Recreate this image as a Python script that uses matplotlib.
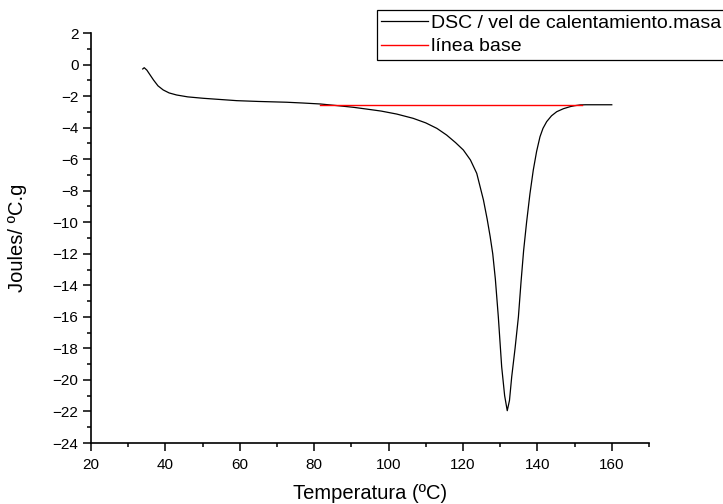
import matplotlib.pyplot as plt
from matplotlib.ticker import MultipleLocator

plt.rcParams['font.family'] = ['Liberation Sans', 'DejaVu Sans']

# DSC curve
temp = [33.9, 34.3, 35.0, 36.0, 36.8, 38.0, 39.4, 41.0, 43.0, 46.0,
        50.2, 55.0, 59.2, 65.0, 72.6, 77.0, 81.6, 86.0, 90.5, 94.0,
        98.0, 102.2, 106.6, 110.0, 113.0, 115.6, 118.0, 120.1, 122.0, 123.7,
        125.5, 126.5, 127.3, 128.0, 128.7, 129.5, 130.4, 131.2, 131.9, 132.5,
        133.1, 134.0, 134.9, 135.6, 136.3, 137.1, 138.0, 138.9, 139.8, 140.7,
        141.5, 142.5, 143.8, 145.2, 147.0, 148.8, 150.0, 151.5, 153.0, 156.0,
        160.0]
dsc = [-0.28, -0.20, -0.35, -0.70, -0.98, -1.35, -1.61, -1.80, -1.93, -2.05,
       -2.14, -2.22, -2.29, -2.34, -2.39, -2.44, -2.50, -2.60, -2.71, -2.82,
       -2.95, -3.14, -3.41, -3.70, -4.05, -4.47, -4.95, -5.42, -6.05, -6.90,
       -8.59, -9.80, -10.9, -12.0, -13.6, -16.0, -19.16, -21.0, -21.95, -21.3,
       -19.8, -18.0, -16.0, -13.8, -11.8, -10.0, -8.2, -6.69, -5.5, -4.58,
       -4.05, -3.62, -3.25, -2.99, -2.80, -2.67, -2.61, -2.56, -2.55, -2.55,
       -2.55]

# baseline
base_x = [81.6, 151.9]
base_y = [-2.55, -2.55]

fig = plt.figure(figsize=(7.23, 5.04), dpi=100)
ax = fig.add_axes([0.1259, 0.121, 0.7717, 0.8135])

ax.plot(temp, dsc, color='black', lw=0.9, label='DSC / vel de calentamiento.masa')
ax.plot(base_x, base_y, color='#ff0000', lw=1.0, label='línea base')

ax.set_xlim(20, 170)
ax.set_ylim(-24, 2)
ax.set_xticks([20, 40, 60, 80, 100, 120, 140, 160])
ax.set_xticks([30, 50, 70, 90, 110, 130, 150, 170], minor=True)
ax.yaxis.set_major_locator(MultipleLocator(2))
ax.yaxis.set_minor_locator(MultipleLocator(1))

for s in ['top', 'right']:
    ax.spines[s].set_visible(False)
for s in ['left', 'bottom']:
    ax.spines[s].set_linewidth(1.2)

ax.tick_params(which='major', direction='out', length=5.5, width=1.1, labelsize=11)
ax.tick_params(axis='x', which='major', pad=5)
ax.tick_params(which='minor', direction='out', length=3.2, width=1.1)

ax.set_xlabel('Temperatura (ºC)', fontsize=14.5, va='center')
ax.set_ylabel('Joules/ ºC.g', fontsize=14.5, va='center')
ax.xaxis.set_label_coords(0.5, -0.124)
ax.yaxis.set_label_coords(-0.131, 0.5)

leg = fig.legend(loc='upper left', bbox_to_anchor=(377 / 723, 1 - 10 / 504),
                 borderaxespad=0, fancybox=False, fontsize=14,
                 handlelength=2.4, handletextpad=0.15, labelspacing=0.3,
                 borderpad=0.22, framealpha=1)
leg.get_frame().set_edgecolor('black')
leg.get_frame().set_linewidth(0.9)

plt.savefig('out.png', dpi=100)
